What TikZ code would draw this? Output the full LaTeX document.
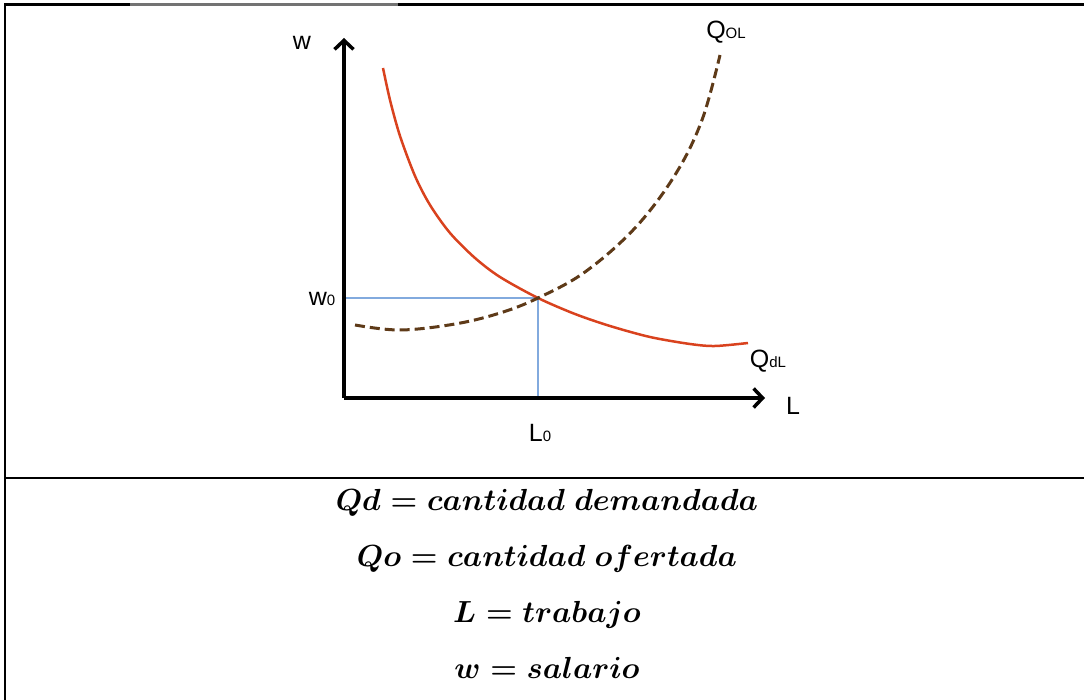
\RequirePackage{fix-cm}
\documentclass[tikz,border=0pt]{standalone}
\usepackage{fontspec}
\usepackage{tikz}
\usetikzlibrary{arrows.meta}
\usetikzlibrary{positioning}
\newfontfamily\labelfont{Liberation Sans}
\newcommand{\sm}[1]{{\fontsize{15}{15}\selectfont #1}}

\definecolor{demandred}{RGB}{217,66,30}
\definecolor{supplybrown}{RGB}{94,58,24}
\definecolor{guideblue}{RGB}{130,170,222}

\begin{document}
\begin{tikzpicture}[x=1pt,y=-1pt,
                    axis line/.style={line width=3.8pt,-{Straight Barb[length=9pt,width=19pt,line width=3.5pt]}},
                    demand curve/.style={demandred,line width=2.5pt},
                    supply curve/.style={supplybrown,line width=3pt,dash pattern=on 10pt off 5pt},
                    guide line/.style={guideblue,line width=1.5pt},
                    axis label/.style={font=\labelfont\fontsize{25}{25}\selectfont,inner sep=0pt},
                    legend/.style={font=\fontsize{30.5}{36}\selectfont\boldmath,inner sep=0pt,anchor=base}]

  \useasboundingbox (0,0) rectangle (1084,700);

  % table frame
  \draw[line width=2.5pt] (5,700) -- (5,4.5) -- (130,4.5);
  \draw[line width=2.2pt,black!55] (130,4.5) -- (398,4.5);
  \draw[line width=2.5pt] (398,4.5) -- (1084,4.5);
  \draw[line width=2.5pt] (5,478) -- (1084,478);

  % axes
  \coordinate (O) at (344,398);
  \coordinate (wtop) at (344,38);
  \coordinate (Lend) at (765,398);
  \coordinate (E) at (538,298);

  \draw[guide line] (E -| O) -- (E) -- (E |- O);

  \draw[axis line] (O) -- (wtop);
  \draw[axis line] (O) -- (Lend);

  % curves
  \draw[demand curve] plot[smooth,tension=0.5] coordinates
    {(383,68) (390,100) (400,136) (415,176) (430,205) (450,233) (475,258) (500,277)
     (538,298) (575,314) (610,326) (650,337) (690,344) (715,346) (748,343)};
  \draw[supply curve] plot[smooth,tension=0.6] coordinates
    {(355,325) (400,330) (455,324) (500,313) (538,298) (585,272) (635,228) (675,175) (702,120) (720,55)};

  % labels
  \node[axis label] (wlab) at (302,43) {w};
  \node[axis label] (Llab) at (793,406) {L};
  \node[axis label] (w0lab) at (322,299) {w\sm{0}};
  \node[axis label] (L0lab) at (540,433) {L\sm{0}};
  \node[axis label] (Qo) at (726,32) {Q\sm{OL}};
  \node[axis label] (Qd) at (768,361) {Q\sm{dL}};

  % legend
  \node[legend] (leg1) at (547,510) {$Qd = cantidad\ demandada$};
  \node[legend] (leg2) at (547,566) {$Qo = cantidad\ ofertada$};
  \node[legend] (leg3) at (547,622) {$L = trabajo$};
  \node[legend] (leg4) at (547,678) {$w = salario$};
\end{tikzpicture}
\end{document}
